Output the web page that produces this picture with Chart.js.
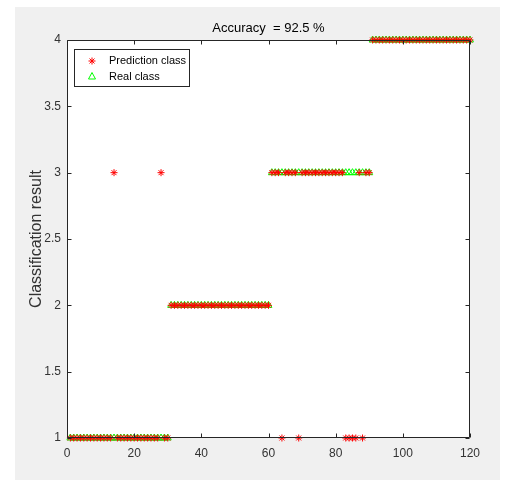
<!DOCTYPE html>
<html><head><meta charset="utf-8">
<script src="https://cdn.jsdelivr.net/npm/chart.js@4"></script>
<style>html,body{margin:0;padding:0;background:#fff;}#wrap{width:506px;height:480px;position:relative;}</style>
</head><body>
<div id="wrap"><canvas id="c" width="506" height="480"></canvas></div>
<script>
const sampleIndex = [1,2,3,4,5,6,7,8,9,10,11,12,13,14,15,16,17,18,19,20,21,22,23,24,25,26,27,28,29,30,
31,32,33,34,35,36,37,38,39,40,41,42,43,44,45,46,47,48,49,50,51,52,53,54,55,56,57,58,59,60,
61,62,63,64,65,66,67,68,69,70,71,72,73,74,75,76,77,78,79,80,81,82,83,84,85,86,87,88,89,90,
91,92,93,94,95,96,97,98,99,100,101,102,103,104,105,106,107,108,109,110,111,112,113,114,115,116,117,118,119,120];
const predictionClass = [1,1,1,1,1,1,1,1,1,1,1,1,1,3,1,1,1,1,1,1,1,1,1,1,1,1,1,3,1,1,
2,2,2,2,2,2,2,2,2,2,2,2,2,2,2,2,2,2,2,2,2,2,2,2,2,2,2,2,2,2,
3,3,3,1,3,3,3,3,1,3,3,3,3,3,3,3,3,3,3,3,3,3,1,1,1,1,3,1,3,3,
4,4,4,4,4,4,4,4,4,4,4,4,4,4,4,4,4,4,4,4,4,4,4,4,4,4,4,4,4,4];
const realClass = [1,1,1,1,1,1,1,1,1,1,1,1,1,1,1,1,1,1,1,1,1,1,1,1,1,1,1,1,1,1,
2,2,2,2,2,2,2,2,2,2,2,2,2,2,2,2,2,2,2,2,2,2,2,2,2,2,2,2,2,2,
3,3,3,3,3,3,3,3,3,3,3,3,3,3,3,3,3,3,3,3,3,3,3,3,3,3,3,3,3,3,
4,4,4,4,4,4,4,4,4,4,4,4,4,4,4,4,4,4,4,4,4,4,4,4,4,4,4,4,4,4];
const xTicks = [0,20,40,60,80,100,120];
const yTicks = [1,1.5,2,2.5,3,3.5,4];
const titleText = 'Accuracy  = 92.5 %';
const yAxisTitle = 'Classification result';
const legendLabels = ['Prediction class','Real class'];

const TXT = '#333333';
const FONT = '"Liberation Sans", Arial, sans-serif';

const bgPlugin = {
  id:'bg',
  beforeDraw(chart){
    const ctx = chart.ctx;
    ctx.save();
    ctx.fillStyle = '#f0f0f0';
    ctx.fillRect(15,7,485,473);
    const a = chart.chartArea;
    ctx.fillStyle = '#ffffff';
    ctx.fillRect(a.left,a.top,a.right-a.left,a.bottom-a.top);
    ctx.restore();
  },
  afterDatasetsDraw(chart){
    const ctx = chart.ctx, a = chart.chartArea;
    const xs = chart.scales.x, ys = chart.scales.y;
    ctx.save();
    ctx.strokeStyle = '#262626';
    ctx.lineWidth = 1;
    const L = Math.round(a.left)+0.5, R = Math.round(a.right)-0.5, T = Math.round(a.top)+0.5, B = Math.round(a.bottom)-0.5;
    ctx.beginPath();
    ctx.rect(L,T,R-L,B-T);
    xTicks.forEach(v=>{
      const px = Math.round(xs.getPixelForValue(v))+0.5;
      ctx.moveTo(px,B); ctx.lineTo(px,B-4);
      ctx.moveTo(px,T); ctx.lineTo(px,T+4);
    });
    yTicks.forEach(v=>{
      const py = Math.round(ys.getPixelForValue(v))+0.5;
      ctx.moveTo(L,py); ctx.lineTo(L+4,py);
      ctx.moveTo(R,py); ctx.lineTo(R-4,py);
    });
    ctx.stroke();
    // title
    ctx.fillStyle = '#000';
    ctx.font = '13px ' + FONT;
    ctx.textAlign = 'center';
    ctx.textBaseline = 'middle';
    ctx.fillText(titleText,(a.left+a.right)/2,28);
    // y axis title
    ctx.save();
    ctx.translate(37,(a.top+a.bottom)/2);
    ctx.rotate(-Math.PI/2);
    ctx.fillStyle = TXT;
    ctx.font = '16px ' + FONT;
    ctx.fillText(yAxisTitle,0,0);
    ctx.restore();
    // legend
    ctx.fillStyle = '#fff';
    ctx.fillRect(74.5,49.5,115,37);
    ctx.strokeStyle = '#262626';
    ctx.strokeRect(74.5,49.5,115,37);
    ctx.font = '11px ' + FONT;
    ctx.textAlign = 'left';
    ctx.fillStyle = '#000';
    ctx.fillText(legendLabels[0],109,61);
    ctx.fillText(legendLabels[1],109,77);
    // star
    ctx.strokeStyle = '#ff0000';
    ctx.beginPath();
    const sx=92, sy=61, r=3.5;
    for(let k=0;k<4;k++){
      const ang = k*Math.PI/4;
      ctx.moveTo(sx-r*Math.cos(ang), sy-r*Math.sin(ang));
      ctx.lineTo(sx+r*Math.cos(ang), sy+r*Math.sin(ang));
    }
    ctx.stroke();
    ctx.strokeStyle = '#00ff00';
    ctx.beginPath();
    ctx.moveTo(92,72.5); ctx.lineTo(95.5,79); ctx.lineTo(88.5,79); ctx.closePath();
    ctx.stroke();
    ctx.restore();
  }
};

new Chart(document.getElementById('c'),{
  type:'scatter',
  data:{
    datasets:[
      {label:legendLabels[0], data:sampleIndex.map((x,i)=>({x:x,y:predictionClass[i]})),
       pointStyle:'star', radius:3.5, borderColor:'#ff0000', backgroundColor:'#ff0000', borderWidth:1, clip:false},
      {label:legendLabels[1], data:sampleIndex.map((x,i)=>({x:x,y:realClass[i]})),
       pointStyle:'triangle', radius:4, borderColor:'#00ff00', backgroundColor:'rgba(0,0,0,0)', borderWidth:1, clip:false}
    ]
  },
  options:{
    responsive:false,
    animation:false,
    layout:{padding:{left:0,right:36,top:40,bottom:0}},
    plugins:{legend:{display:false},title:{display:false},tooltip:{enabled:false}},
    scales:{
      x:{type:'linear',min:0,max:120,
        afterFit(s){s.height=42;},
        afterBuildTicks(s){s.ticks = xTicks.map(v=>({value:v}));},
        grid:{display:false,drawTicks:false},border:{display:false},
        ticks:{color:TXT,font:{size:12,family:FONT},padding:8,maxRotation:0}},
      y:{type:'linear',min:1,max:4,
        afterFit(s){s.width=67;},
        afterBuildTicks(s){s.ticks = yTicks.map(v=>({value:v}));},
        grid:{display:false,drawTicks:false},border:{display:false},
        ticks:{color:TXT,font:{size:12,family:FONT},padding:6,callback:v=>String(v)}}
    }
  },
  plugins:[bgPlugin]
});
</script>
</body></html>
